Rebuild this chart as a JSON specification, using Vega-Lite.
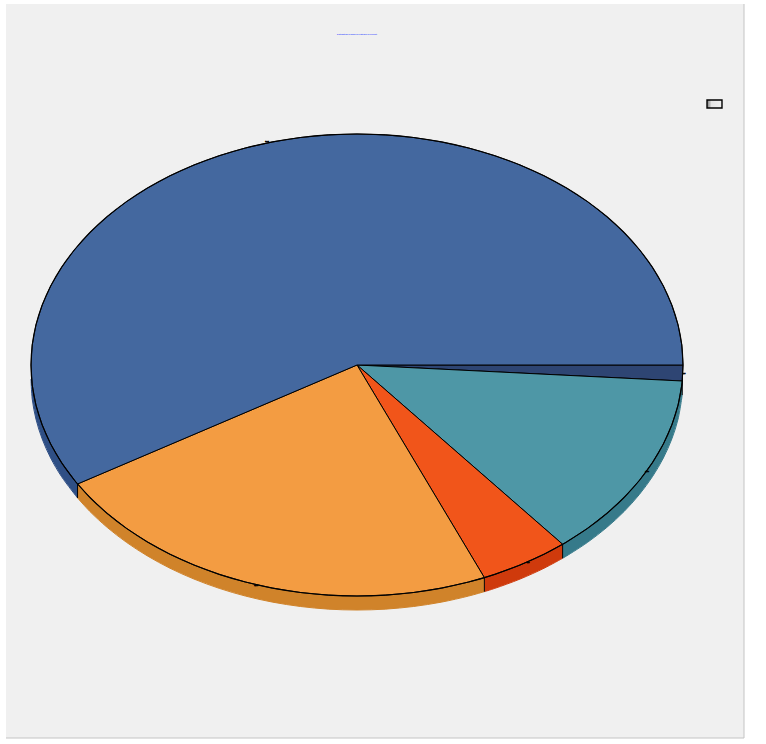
{"$schema":"https://vega.github.io/schema/vega-lite/v6.json","width":738,"height":734,"autosize":"none","padding":{"left":6,"top":4,"right":22,"bottom":6},"background":"#ffffff","config":{"view":{"fill":"#f0f0f0","stroke":null}},"title":{"text":"Distribution of Share by Category in Percent","fontSize":1.9,"fontWeight":"bold","color":"#2f48ff","anchor":"middle","dx":-18,"dy":37,"font":"Liberation Sans"},"datasets":{"tops":[{"s":"E","o":0,"u":0,"y":0},{"s":"E","o":1,"u":1,"y":0},{"s":"E","o":2,"u":0.9976,"y":0.0693},
{"s":"D","o":0,"u":0,"y":0},{"s":"D","o":1,"u":0.9976,"y":0.0693},{"s":"D","o":2,"u":0.9962,"y":0.0872},{"s":"D","o":3,"u":0.9848,"y":0.1736},{"s":"D","o":4,"u":0.9659,"y":0.2588},{"s":"D","o":5,"u":0.9397,"y":0.342},{"s":"D","o":6,"u":0.9063,"y":0.4226},{"s":"D","o":7,"u":0.866,"y":0.5},{"s":"D","o":8,"u":0.8192,"y":0.5736},{"s":"D","o":9,"u":0.766,"y":0.6428},{"s":"D","o":10,"u":0.7071,"y":0.7071},{"s":"D","o":11,"u":0.6428,"y":0.766},{"s":"D","o":12,"u":0.6307,"y":0.776},
{"s":"C","o":0,"u":0,"y":0},{"s":"C","o":1,"u":0.6307,"y":0.776},{"s":"C","o":2,"u":0.5736,"y":0.8192},{"s":"C","o":3,"u":0.5,"y":0.866},{"s":"C","o":4,"u":0.4226,"y":0.9063},{"s":"C","o":5,"u":0.3907,"y":0.9205},
{"s":"B","o":0,"u":0,"y":0},{"s":"B","o":1,"u":0.3907,"y":0.9205},{"s":"B","o":2,"u":0.342,"y":0.9397},{"s":"B","o":3,"u":0.2588,"y":0.9659},{"s":"B","o":4,"u":0.1736,"y":0.9848},{"s":"B","o":5,"u":0.0872,"y":0.9962},{"s":"B","o":6,"u":0,"y":1},{"s":"B","o":7,"u":-0.0872,"y":0.9962},{"s":"B","o":8,"u":-0.1736,"y":0.9848},{"s":"B","o":9,"u":-0.2588,"y":0.9659},{"s":"B","o":10,"u":-0.342,"y":0.9397},{"s":"B","o":11,"u":-0.4226,"y":0.9063},{"s":"B","o":12,"u":-0.5,"y":0.866},{"s":"B","o":13,"u":-0.5736,"y":0.8192},{"s":"B","o":14,"u":-0.6428,"y":0.766},{"s":"B","o":15,"u":-0.7071,"y":0.7071},{"s":"B","o":16,"u":-0.766,"y":0.6428},{"s":"B","o":17,"u":-0.8192,"y":0.5736},{"s":"B","o":18,"u":-0.8572,"y":0.515},
{"s":"A","o":0,"u":0,"y":0},{"s":"A","o":1,"u":-0.8572,"y":0.515},{"s":"A","o":2,"u":-0.866,"y":0.5},{"s":"A","o":3,"u":-0.9063,"y":0.4226},{"s":"A","o":4,"u":-0.9397,"y":0.342},{"s":"A","o":5,"u":-0.9659,"y":0.2588},{"s":"A","o":6,"u":-0.9848,"y":0.1736},{"s":"A","o":7,"u":-0.9962,"y":0.0872},{"s":"A","o":8,"u":-1,"y":0},{"s":"A","o":9,"u":-0.9962,"y":-0.0872},{"s":"A","o":10,"u":-0.9848,"y":-0.1736},{"s":"A","o":11,"u":-0.9659,"y":-0.2588},{"s":"A","o":12,"u":-0.9397,"y":-0.342},{"s":"A","o":13,"u":-0.9063,"y":-0.4226},{"s":"A","o":14,"u":-0.866,"y":-0.5},{"s":"A","o":15,"u":-0.8192,"y":-0.5736},{"s":"A","o":16,"u":-0.766,"y":-0.6428},{"s":"A","o":17,"u":-0.7071,"y":-0.7071},{"s":"A","o":18,"u":-0.6428,"y":-0.766},{"s":"A","o":19,"u":-0.5736,"y":-0.8192},{"s":"A","o":20,"u":-0.5,"y":-0.866},{"s":"A","o":21,"u":-0.4226,"y":-0.9063},{"s":"A","o":22,"u":-0.342,"y":-0.9397},{"s":"A","o":23,"u":-0.2588,"y":-0.9659},{"s":"A","o":24,"u":-0.1736,"y":-0.9848},{"s":"A","o":25,"u":-0.0872,"y":-0.9962},{"s":"A","o":26,"u":0,"y":-1},{"s":"A","o":27,"u":0.0872,"y":-0.9962},{"s":"A","o":28,"u":0.1736,"y":-0.9848},{"s":"A","o":29,"u":0.2588,"y":-0.9659},{"s":"A","o":30,"u":0.342,"y":-0.9397},{"s":"A","o":31,"u":0.4226,"y":-0.9063},{"s":"A","o":32,"u":0.5,"y":-0.866},{"s":"A","o":33,"u":0.5736,"y":-0.8192},{"s":"A","o":34,"u":0.6428,"y":-0.766},{"s":"A","o":35,"u":0.7071,"y":-0.7071},{"s":"A","o":36,"u":0.766,"y":-0.6428},{"s":"A","o":37,"u":0.8192,"y":-0.5736},{"s":"A","o":38,"u":0.866,"y":-0.5},{"s":"A","o":39,"u":0.9063,"y":-0.4226},{"s":"A","o":40,"u":0.9397,"y":-0.342},{"s":"A","o":41,"u":0.9659,"y":-0.2588},{"s":"A","o":42,"u":0.9848,"y":-0.1736},{"s":"A","o":43,"u":0.9962,"y":-0.0872},{"s":"A","o":44,"u":1,"y":0}],
"walls":[{"s":"E","o":0,"u":1,"y":0},{"s":"E","o":1,"u":0.9976,"y":0.0693},{"s":"E","o":2,"u":0.9976,"y":0.1299},{"s":"E","o":3,"u":1,"y":0.0606},
{"s":"D","o":0,"u":0.9976,"y":0.0693},{"s":"D","o":1,"u":0.9848,"y":0.1736},{"s":"D","o":2,"u":0.9659,"y":0.2588},{"s":"D","o":3,"u":0.9397,"y":0.342},{"s":"D","o":4,"u":0.9063,"y":0.4226},{"s":"D","o":5,"u":0.866,"y":0.5},{"s":"D","o":6,"u":0.8192,"y":0.5736},{"s":"D","o":7,"u":0.766,"y":0.6428},{"s":"D","o":8,"u":0.7071,"y":0.7071},{"s":"D","o":9,"u":0.6428,"y":0.766},{"s":"D","o":10,"u":0.6307,"y":0.776},{"s":"D","o":11,"u":0.6307,"y":0.8366},{"s":"D","o":12,"u":0.6428,"y":0.8266},{"s":"D","o":13,"u":0.7071,"y":0.7677},{"s":"D","o":14,"u":0.766,"y":0.7034},{"s":"D","o":15,"u":0.8192,"y":0.6342},{"s":"D","o":16,"u":0.866,"y":0.5606},{"s":"D","o":17,"u":0.9063,"y":0.4832},{"s":"D","o":18,"u":0.9397,"y":0.4026},{"s":"D","o":19,"u":0.9659,"y":0.3194},{"s":"D","o":20,"u":0.9848,"y":0.2342},{"s":"D","o":21,"u":0.9976,"y":0.1299},
{"s":"C","o":0,"u":0.6307,"y":0.776},{"s":"C","o":1,"u":0.5736,"y":0.8192},{"s":"C","o":2,"u":0.5,"y":0.866},{"s":"C","o":3,"u":0.4226,"y":0.9063},{"s":"C","o":4,"u":0.3907,"y":0.9205},{"s":"C","o":5,"u":0.3907,"y":0.9811},{"s":"C","o":6,"u":0.4226,"y":0.9669},{"s":"C","o":7,"u":0.5,"y":0.9266},{"s":"C","o":8,"u":0.5736,"y":0.8798},{"s":"C","o":9,"u":0.6307,"y":0.8366},
{"s":"B","o":0,"u":0.3907,"y":0.9205},{"s":"B","o":1,"u":0.342,"y":0.9397},{"s":"B","o":2,"u":0.2588,"y":0.9659},{"s":"B","o":3,"u":0.1736,"y":0.9848},{"s":"B","o":4,"u":0.0872,"y":0.9962},{"s":"B","o":5,"u":0,"y":1},{"s":"B","o":6,"u":-0.0872,"y":0.9962},{"s":"B","o":7,"u":-0.1736,"y":0.9848},{"s":"B","o":8,"u":-0.2588,"y":0.9659},{"s":"B","o":9,"u":-0.342,"y":0.9397},{"s":"B","o":10,"u":-0.4226,"y":0.9063},{"s":"B","o":11,"u":-0.5,"y":0.866},{"s":"B","o":12,"u":-0.5736,"y":0.8192},{"s":"B","o":13,"u":-0.6428,"y":0.766},{"s":"B","o":14,"u":-0.7071,"y":0.7071},{"s":"B","o":15,"u":-0.766,"y":0.6428},{"s":"B","o":16,"u":-0.8192,"y":0.5736},{"s":"B","o":17,"u":-0.8572,"y":0.515},{"s":"B","o":18,"u":-0.8572,"y":0.5756},{"s":"B","o":19,"u":-0.8192,"y":0.6342},{"s":"B","o":20,"u":-0.766,"y":0.7034},{"s":"B","o":21,"u":-0.7071,"y":0.7677},{"s":"B","o":22,"u":-0.6428,"y":0.8266},{"s":"B","o":23,"u":-0.5736,"y":0.8798},{"s":"B","o":24,"u":-0.5,"y":0.9266},{"s":"B","o":25,"u":-0.4226,"y":0.9669},{"s":"B","o":26,"u":-0.342,"y":1.0003},{"s":"B","o":27,"u":-0.2588,"y":1.0265},{"s":"B","o":28,"u":-0.1736,"y":1.0454},{"s":"B","o":29,"u":-0.0872,"y":1.0568},{"s":"B","o":30,"u":0,"y":1.0606},{"s":"B","o":31,"u":0.0872,"y":1.0568},{"s":"B","o":32,"u":0.1736,"y":1.0454},{"s":"B","o":33,"u":0.2588,"y":1.0265},{"s":"B","o":34,"u":0.342,"y":1.0003},{"s":"B","o":35,"u":0.3907,"y":0.9811},
{"s":"A","o":0,"u":-0.8572,"y":0.515},{"s":"A","o":1,"u":-0.9063,"y":0.4226},{"s":"A","o":2,"u":-0.9397,"y":0.342},{"s":"A","o":3,"u":-0.9659,"y":0.2588},{"s":"A","o":4,"u":-0.9848,"y":0.1736},{"s":"A","o":5,"u":-0.9962,"y":0.0872},{"s":"A","o":6,"u":-1,"y":0},{"s":"A","o":7,"u":-1,"y":0.0606},{"s":"A","o":8,"u":-0.9962,"y":0.1478},{"s":"A","o":9,"u":-0.9848,"y":0.2342},{"s":"A","o":10,"u":-0.9659,"y":0.3194},{"s":"A","o":11,"u":-0.9397,"y":0.4026},{"s":"A","o":12,"u":-0.9063,"y":0.4832},{"s":"A","o":13,"u":-0.8572,"y":0.5756}],
"edges":[{"s":"E","o":0,"u":0.9976,"y":0.0693},{"s":"E","o":1,"u":0.9976,"y":0.1299},{"s":"D","o":0,"u":0.6307,"y":0.776},{"s":"D","o":1,"u":0.6307,"y":0.8366},{"s":"C","o":0,"u":0.3907,"y":0.9205},{"s":"C","o":1,"u":0.3907,"y":0.9811},{"s":"B","o":0,"u":-0.8572,"y":0.515},{"s":"B","o":1,"u":-0.8572,"y":0.5756}],
"labels":[{"t":"58.6%","u":-0.2761,"y":-0.9654},{"t":"1.1%","u":1.0031,"y":0.039},{"t":"13.0%","u":0.8896,"y":0.4632},{"t":"4.5%","u":0.5245,"y":0.8571},{"t":"22.7%","u":-0.3098,"y":0.9567}],
"legend":[{"u":1.0736,"u2":1.1196,"y":-1.1472,"y2":-1.1126}],
"frame":[{"u":-1.0767,"y":1.6147},{"u":1.1871,"y":1.6147},{"u":1.1871,"y":-1.5628}]},
"encoding":{"x":{"field":"u","type":"quantitative","scale":{"domain":[-1.0767,1.1871],"nice":false,"zero":false},"axis":null},"y":{"field":"y","type":"quantitative","scale":{"domain":[-1.5628,1.6147],"reverse":true,"nice":false,"zero":false},"axis":null}},
"layer":[
{"data":{"name":"frame"},"mark":{"type":"line","stroke":"#c4c4c4","strokeWidth":1,"clip":false},"encoding":{"order":{"field":"u"}}},
{"data":{"name":"walls"},"mark":{"type":"line","interpolate":"linear-closed","filled":true,"strokeWidth":0},"encoding":{"order":{"field":"o","type":"quantitative"},"color":{"field":"s","type":"nominal","legend":null,"scale":{"domain":["A","B","C","D","E"],"range":["#2f4f85","#d0832a","#cf3a0c","#367a8a","#2a3f6b"]}}}},
{"data":{"name":"walls"},"transform":[{"filter":"(datum.s=='A'&&datum.o>=7)||(datum.s=='B'&&datum.o>=18)||(datum.s=='C'&&datum.o>=5)||(datum.s=='D'&&datum.o>=11)"}],"mark":{"type":"line","interpolate":"catmull-rom","strokeWidth":1},"encoding":{"order":{"field":"o","type":"quantitative"},"color":{"field":"s","type":"nominal","legend":null,"scale":{"domain":["A","B","C","D","E"],"range":["#2f4f85","#d0832a","#cf3a0c","#367a8a","#2a3f6b"]}}}},
{"data":{"name":"edges"},"mark":{"type":"line","stroke":"#000000","strokeWidth":1},"encoding":{"order":{"field":"o","type":"quantitative"},"detail":{"field":"s"}}},
{"data":{"name":"tops"},"mark":{"type":"line","interpolate":"linear-closed","filled":true,"stroke":"#000000","strokeWidth":1},"encoding":{"order":{"field":"o","type":"quantitative"},"color":{"field":"s","type":"nominal","legend":null,"scale":{"domain":["A","B","C","D","E"],"range":["#44689f","#f39c42","#f1551a","#4e97a6","#2e4573"]}}}},
{"data":{"name":"tops"},"transform":[{"filter":"datum.o>0"}],"mark":{"type":"line","interpolate":"catmull-rom","stroke":"#000000","strokeWidth":1.1},"encoding":{"order":{"field":"o","type":"quantitative"},"detail":{"field":"s"}}},
{"data":{"name":"labels"},"mark":{"type":"text","fontSize":1.3,"fontWeight":"bold","color":"#000000","stroke":"#000000","strokeWidth":0.6,"font":"Liberation Sans"},"encoding":{"text":{"field":"t"}}},
{"data":{"name":"legend"},"mark":{"type":"rect","stroke":"#000000","strokeWidth":1.4,"fill":{"gradient":"linear","x1":0,"x2":1,"y1":0,"y2":0,"stops":[{"offset":0,"color":"#777777"},{"offset":0.3,"color":"#e4e4e4"},{"offset":1,"color":"#f0f0f0"}]}},"encoding":{"x2":{"field":"u2"},"y2":{"field":"y2"}}}
],
"resolve":{"scale":{"color":"independent"}}}
